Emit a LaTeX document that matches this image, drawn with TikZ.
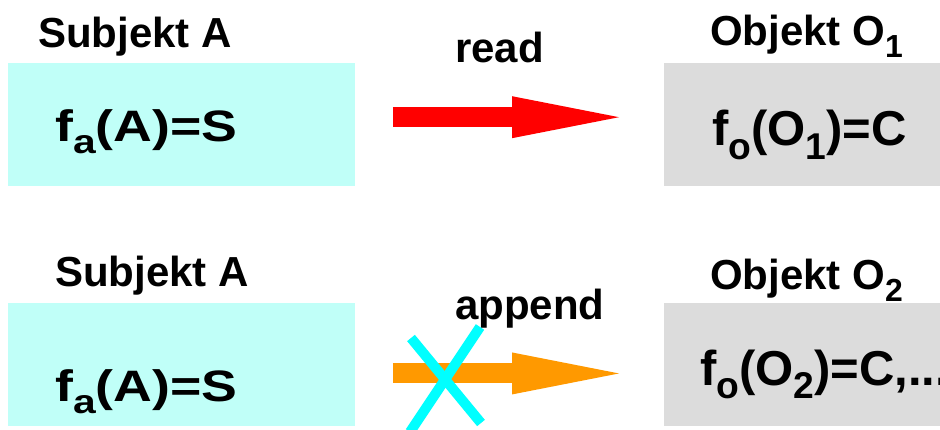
\documentclass[tikz,border=0pt]{standalone}
\usepackage{fontspec}
\setmainfont{Liberation Sans}
\usepackage{graphicx}
\usetikzlibrary{arrows.meta, math}

\definecolor{subjcyan}{RGB}{192,255,248}
\definecolor{objgray}{RGB}{220,220,220}
\definecolor{appendorange}{RGB}{255,153,0}
\definecolor{crosscyan}{RGB}{0,255,255}

% lowered index
\newcommand{\idx}[1]{\raisebox{-0.28em}{\scalebox{0.76}{#1}}}

\begin{document}
\begin{tikzpicture}[x=1pt, y=-1pt,
    subjbox/.style={fill=subjcyan, anchor=north west, inner sep=0pt, minimum width=347pt, minimum height=123pt},
    objbox/.style={fill=objgray, anchor=north west, inner sep=0pt, minimum width=300pt, minimum height=123pt},
    lbltext/.style={anchor=base west, inner sep=0pt, font=\fontsize{42}{46}\selectfont\bfseries},
    fmltext/.style={anchor=base west, inner sep=0pt, font=\fontsize{44}{50}\selectfont\bfseries\addfontfeature{FakeStretch=1.22}},
    objfml/.style={font=\fontsize{49}{54}\selectfont\bfseries},
    bigarrow/.style={line width=20pt, -{Triangle[length=107pt, width=42pt, line width=0pt]}, shorten <=37.5pt, shorten >=45pt},
    crossline/.style={crosscyan, line width=10pt}]
    \tikzmath{\yTop = 63; \yBot = 302.5; \xSubj = 8; \xObj = 664;}
    \useasboundingbox (0,0) rectangle (940,430);
    \clip (0,0) rectangle (940,430);

    % read: allowed
    \node[subjbox](subj-a) at (\xSubj,\yTop) {};
    \node[objbox](obj-o1) at (\xObj,\yTop) {};
    \node[lbltext](subj-a-title) at (38,48) {Subjekt A};
    \node[lbltext](read-lbl) at (455,63) {read};
    \node[lbltext](obj-o1-title) at (710,46) {Objekt O\idx{1}};
    \node[fmltext](subj-a-fn) at (55,141.5) {f\idx{a}(A)=S};
    \node[fmltext, objfml](obj-o1-fn) at (712,146) {f\idx{o}(O\idx{1})=C};
    \draw[bigarrow, red] ([yshift=7.5pt]subj-a.east) -- ([yshift=7.5pt]obj-o1.west);

    % append: forbidden
    \node[subjbox](subj-b) at (\xSubj,\yBot) {};
    \node[objbox](obj-o2) at (\xObj,\yBot) {};
    \node[lbltext](subj-b-title) at (55,287) {Subjekt A};
    \node[lbltext](append-lbl) at (455,320) {append};
    \node[lbltext](obj-o2-title) at (710,290) {Objekt O\idx{2}};
    \node[fmltext](subj-b-fn) at (55,401) {f\idx{a}(A)=S};
    \node[fmltext, objfml](obj-o2-fn) at (700,385) {f\idx{o}(O\idx{2})=C,...};
    \draw[bigarrow, appendorange] ([yshift=-9.25pt]subj-b.east) -- ([yshift=-9.25pt]obj-o2.west);

    \draw[crossline] (411,338) -- (481,423);
    \draw[crossline] (480,327) -- (410,432);
\end{tikzpicture}
\end{document}
